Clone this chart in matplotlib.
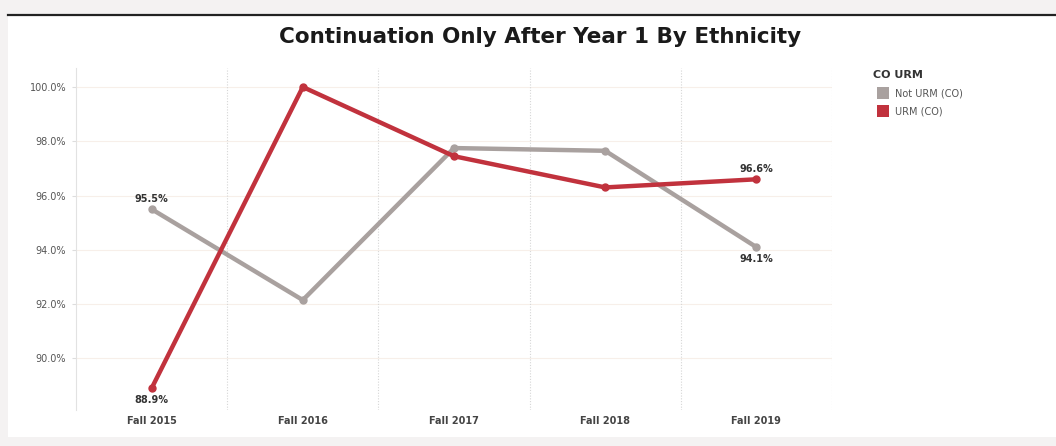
import numpy as np
import matplotlib.pyplot as plt
from matplotlib.patches import Rectangle
from matplotlib.lines import Line2D

terms = ['Fall 2015', 'Fall 2016', 'Fall 2017', 'Fall 2018', 'Fall 2019']
not_urm = [95.5, 92.15, 97.75, 97.65, 94.1]
urm = [88.9, 100.0, 97.45, 96.3, 96.6]
yticks = [90, 92, 94, 96, 98, 100]

gray = '#a9a19f'
red = '#c1323d'

fig = plt.figure(figsize=(10.56, 4.46), dpi=100)
fig.patch.set_facecolor('#f4f2f2')

# white panel with dark top rule
W, H = 1056, 446
fig.add_artist(Rectangle((8 / W, 1 - 437 / H), 1 - 8 / W, (437 - 16) / H,
                         transform=fig.transFigure, facecolor='white', edgecolor='none', zorder=0))
fig.add_artist(Line2D([8 / W, 1], [1 - 15 / H, 1 - 15 / H], transform=fig.transFigure,
                      color='#222222', lw=1.6))

ax = fig.add_axes([76 / W, 1 - 410 / H, (832 - 76) / W, (410 - 68) / H])
ax.set_facecolor('white')
x = np.arange(len(terms))

ax.plot(x, not_urm, color=gray, lw=3.2, marker='o', ms=5, solid_capstyle='round', zorder=3)
ax.plot(x, urm, color=red, lw=3.2, marker='o', ms=5, solid_capstyle='round', zorder=4)

ax.set_xlim(-0.5, len(terms) - 0.5)
ax.set_ylim(88.1, 100.7)
ax.set_yticks(yticks)
ax.set_yticklabels([f'{v:.1f}%' for v in yticks])
ax.set_xticks(x)
ax.set_xticklabels(terms, fontweight='bold')
ax.tick_params(axis='y', length=3, color='#dddddd', labelsize=7, labelcolor='#555555', pad=4)
ax.tick_params(axis='x', length=0, labelsize=7, labelcolor='#444444', pad=4)

for s in ['top', 'right', 'bottom']:
    ax.spines[s].set_visible(False)
ax.spines['left'].set_color('#e2e2e2')

for v in yticks:
    ax.axhline(v, color='#f7efe9', lw=0.8, zorder=0)
for b in np.arange(0.5, len(terms), 1.0):
    ax.axvline(b, color='#d6d6d6', lw=0.8, ls=(0, (1, 1.5)), zorder=0)

lab = dict(fontsize=7, fontweight='bold', color='#333333', ha='center')
ax.annotate(f'{not_urm[0]:.1f}%', (x[0], not_urm[0]), xytext=(0, 4), textcoords='offset points', va='bottom', **lab)
ax.annotate(f'{urm[0]:.1f}%', (x[0], urm[0]), xytext=(0, -5), textcoords='offset points', va='top', **lab)
ax.annotate(f'{urm[4]:.1f}%', (x[4], urm[4]), xytext=(0, 4), textcoords='offset points', va='bottom', **lab)
ax.annotate(f'{not_urm[4]:.1f}%', (x[4], not_urm[4]), xytext=(0, -5), textcoords='offset points', va='top', **lab)

fig.text(540 / W, 1 - 37 / H, 'Continuation Only After Year 1 By Ethnicity', ha='center', va='center',
         fontsize=15.5, fontweight='bold', color='#1a1a1a')

# legend
fig.text(873 / W, 1 - 75 / H, 'CO URM', fontsize=8, fontweight='bold', color='#333333', va='center')
for i, (name, c) in enumerate([('Not URM (CO)', gray), ('URM (CO)', red)]):
    yy = 93 + 18 * i
    fig.add_artist(Rectangle((877 / W, 1 - (yy + 6) / H), 12 / W, 12 / H, transform=fig.transFigure,
                             facecolor=c, edgecolor='none'))
    fig.text(895 / W, 1 - yy / H, name, fontsize=7, color='#555555', va='center')

fig.savefig('out.png', dpi=100, facecolor=fig.get_facecolor())
